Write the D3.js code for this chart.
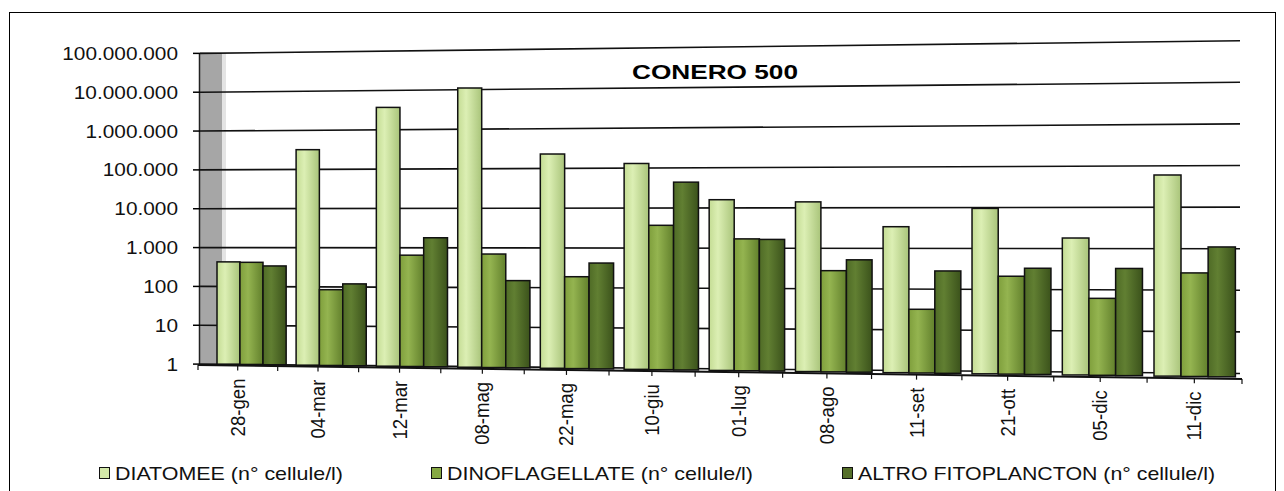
<!DOCTYPE html>
<html><head><meta charset="utf-8">
<script src="https://cdn.jsdelivr.net/npm/d3@7/dist/d3.min.js"></script>
<style>
html,body{margin:0;padding:0;background:#fff;}
svg{display:block;font-family:"Liberation Sans",Arial,sans-serif;}
</style></head>
<body>
<svg id="chart" width="1284" height="491"></svg>
<script>
// ---- data ----
const categories = ["28-gen","04-mar","12-mar","08-mag","22-mag","10-giu","01-lug","08-ago","11-set","21-ott","05-dic","11-dic"];
const seriesNames = ["DIATOMEE (n° cellule/l)","DINOFLAGELLATE (n° cellule/l)","ALTRO FITOPLANCTON (n° cellule/l)"];
const diatomee       = [430, 320000, 3700000, 11000000, 230000, 130000, 16000, 14000, 3400, 9500, 1800, 60000];
const dinoflagellate = [420, 85, 650, 700, 190, 3700, 1700, 280, 32, 210, 62, 260];
const altro          = [340, 120, 1800, 150, 420, 44000, 1650, 520, 280, 330, 330, 1100];
const tickValues = [1, 10, 100, 1000, 10000, 100000, 1000000, 10000000, 100000000];
const title = "CONERO 500";

const seriesData = [diatomee, dinoflagellate, altro];
const colors = [
  {l:"#c4dc94", m:"#dcefb4", r:"#a9c47a", solid:"#d3e8a8"},
  {l:"#7f9f3c", m:"#94b450", r:"#62802c", solid:"#86a843"},
  {l:"#4f6b26", m:"#617f32", r:"#3b521b", solid:"#556f2a"}
];

const svg = d3.select("#chart");

// ---- scales ----
const xBand = d3.scaleBand().domain(categories).range([0, 11.875]).paddingInner(0.125).paddingOuter(0);
const sBand = d3.scaleBand().domain(seriesNames).range([0, xBand.bandwidth()]);
const xPoint = d3.scalePoint().domain(categories).range([0, 12]).padding(0.5);
const yLog = d3.scaleLog().domain([1, 1e8]).range([0, 8]);

// perspective warps (bar plane and front axis plane)
const px = u => (217 + 77 * u) / (1 - 0.00709 * u);
const ax = u => (198 + 77.59 * u) / (1 - 0.007576 * u);
const wallL = 222, wallR = 1240;
function yWall(v, x) {
  const t = (x - wallL) / (wallR - wallL);
  const base = 364.3 + 9.2 * t, k = 38.9 + 2.7 * t;
  return base - k * yLog(v);
}
const floorY = x => 364 + 13 * (x - 217) / 1018;
const axisY = x => 365 + 14 * (x - 198) / 1044;

const fmt = d3.formatLocale({decimal: ",", thousands: ".", grouping: [3], currency: ["", ""]}).format(",d");

// ---- outer border ----
svg.append("rect").attr("x", 9.5).attr("y", 12.5).attr("width", 1266).attr("height", 490)
  .attr("fill", "none").attr("stroke", "#000").attr("stroke-width", 1);

// gradients
const defs = svg.append("defs");
colors.forEach((c, i) => {
  const g = defs.append("linearGradient").attr("id", "g" + i).attr("x1", 0).attr("x2", 1).attr("y1", 0).attr("y2", 0);
  g.append("stop").attr("offset", "0%").attr("stop-color", c.l);
  g.append("stop").attr("offset", "35%").attr("stop-color", c.m);
  g.append("stop").attr("offset", "100%").attr("stop-color", c.r);
});

// ---- side wall ----
svg.append("polygon")
  .attr("points", [[200, yWall(1e8, 200) - 1], [222, yWall(1e8, 222)], [222, floorY(222)], [200, axisY(200)]].map(p => p.join(",")).join(" "))
  .attr("fill", "#a6a6a6");
svg.append("rect").attr("x", 222).attr("y", yWall(1e8, 222)).attr("width", 4)
  .attr("height", floorY(222) - yWall(1e8, 222)).attr("fill", "#e4e4e4");

// ---- gridlines ----
svg.append("g").selectAll("line").data(tickValues).join("line")
  .attr("x1", 200).attr("x2", wallR)
  .attr("y1", d => yWall(d, 200)).attr("y2", d => yWall(d, wallR))
  .attr("stroke", "#111").attr("stroke-width", 1.6);

// y axis line + ticks + labels
svg.append("line").attr("x1", 199.5).attr("x2", 199.5).attr("y1", yWall(1e8, 200)).attr("y2", axisY(200))
  .attr("stroke", "#222").attr("stroke-width", 1.5);
const yt = svg.append("g").selectAll("g").data(tickValues).join("g");
yt.append("line").attr("x1", 193).attr("x2", 200)
  .attr("y1", d => yWall(d, 200)).attr("y2", d => yWall(d, 200))
  .attr("stroke", "#000").attr("stroke-width", 1.5);
yt.append("text")
  .attr("transform", d => `translate(178,${yWall(d, 200) + 6.5}) scale(1.12,1)`)
  .attr("text-anchor", "end").attr("font-size", 18.6).attr("fill", "#111")
  .text(d => fmt(d));

// ---- bars ----
const bars = [];
categories.forEach((c, i) => {
  seriesNames.forEach((s, j) => {
    const u0 = xBand(c) + sBand(s), u1 = u0 + sBand.bandwidth();
    const x0 = px(u0), x1 = px(u1), xc = px((u0 + u1) / 2);
    bars.push({x0, x1, top: yWall(seriesData[j][i], xc), bottom: floorY(xc), j});
  });
});
svg.append("g").selectAll("rect").data(bars).join("rect")
  .attr("x", d => d.x0).attr("width", d => d.x1 - d.x0)
  .attr("y", d => d.top).attr("height", d => d.bottom - d.top)
  .attr("fill", d => `url(#g${d.j})`).attr("stroke", "#111").attr("stroke-width", 1.5);

// ---- x axis ----
svg.append("line").attr("x1", 198).attr("x2", 1242).attr("y1", axisY(198)).attr("y2", axisY(1242))
  .attr("stroke", "#111").attr("stroke-width", 2);
const halfTicks = d3.range(0, 24.5, 1).map(k => k / 2);
svg.append("g").selectAll("line").data(halfTicks).join("line")
  .attr("x1", d => ax(d)).attr("x2", d => ax(d))
  .attr("y1", d => axisY(ax(d))).attr("y2", d => axisY(ax(d)) + 5)
  .attr("stroke", "#111").attr("stroke-width", 1.2);
svg.append("g").selectAll("text").data(categories).join("text")
  .attr("transform", d => { const x = ax(xPoint(d)); return `translate(${x + 7},${axisY(x) + 13}) rotate(-90) scale(1,1.12)`; })
  .attr("text-anchor", "end").attr("font-size", 18.6).attr("fill", "#111")
  .text(d => d);

// ---- title ----
svg.append("text").attr("x", 632).attr("y", 78.5).attr("font-size", 21).attr("font-weight", "bold")
  .attr("textLength", 166).attr("lengthAdjust", "spacingAndGlyphs").text(title);

// ---- legend ----
const legX = [99, 431, 842];
const legW = [228, 306, 357];
const leg = svg.append("g").selectAll("g").data(seriesNames).join("g")
  .attr("transform", (d, i) => `translate(${legX[i]},467)`);
leg.append("rect").attr("x", 0.5).attr("y", 0.5).attr("width", 10).attr("height", 11)
  .attr("fill", (d, i) => colors[i].solid).attr("stroke", "#111").attr("stroke-width", 1);
leg.append("text").attr("x", 16).attr("y", 13).attr("font-size", 18.6).attr("fill", "#111")
  .attr("textLength", (d, i) => legW[i]).attr("lengthAdjust", "spacingAndGlyphs").text(d => d);
</script>
</body></html>
